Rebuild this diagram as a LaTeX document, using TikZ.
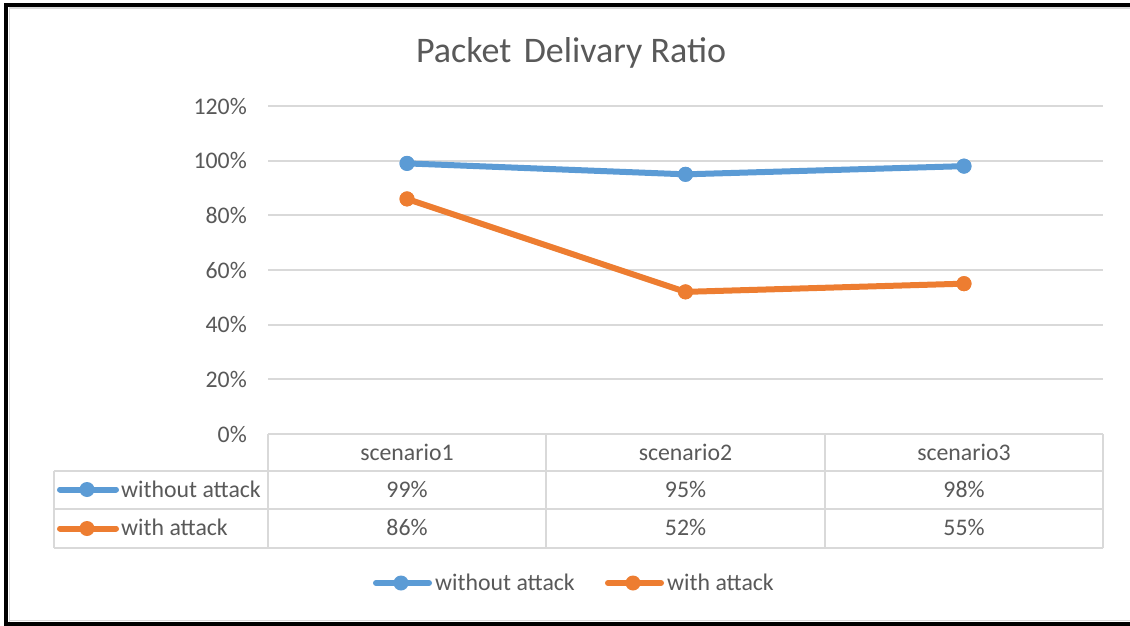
\documentclass[tikz,border=0pt]{standalone}
\usepackage{fontspec}
\setmainfont{Carlito}
\definecolor{serA}{HTML}{5B9BD5}
\definecolor{serB}{HTML}{ED7D31}
\definecolor{txtgray}{HTML}{595959}
\definecolor{gridgray}{HTML}{D9D9D9}
\begin{document}
\begin{tikzpicture}[x=1pt,y=-1pt,
  lbl/.style={text=txtgray,font=\fontsize{23.8}{28}\selectfont,inner sep=0pt},
  ttl/.style={text=txtgray,font=\fontsize{36}{42}\selectfont,inner sep=0pt},
  gridline/.style={draw=gridgray,line width=2pt},
  mkA/.style={circle,fill=serA,minimum size=15pt,inner sep=0pt},
  mkB/.style={circle,fill=serB,minimum size=15pt,inner sep=0pt},
  serline/.style={line width=6pt,line join=round},
  keyline/.style={line width=6pt,line cap=round}]
\useasboundingbox (0,0) rectangle (1130,626);
\fill[white] (0,0) rectangle (1130,626);
% frame
\draw[gridgray,line width=1.5pt] (9.5,626) -- (9.5,8) -- (1130,8);
\draw[gridgray,line width=1.5pt] (9.5,620.5) -- (1130,620.5);
\draw[black,line width=4pt] (6,626) -- (6,4.7) -- (1130,4.7);
\draw[black,line width=4pt] (4,624) -- (1130,624);
% title
\node[ttl,anchor=base] (title) at (571,63) {Packet\hspace{0.12em} Delivary Ratio};
% gridlines and axis labels
\foreach \v/\t in {1.2/120\%,1.0/100\%,0.8/80\%,0.6/60\%,0.4/40\%,0.2/20\%,0/0\%}{
  \draw[gridline] (268,{434-\v*273.33}) -- (1103,{434-\v*273.33});
  \node[lbl,anchor=base east] at (247,{434-\v*273.33+8}) {\t};
}
% table
\draw[gridline] (268,434) -- (1103,434);
\draw[gridline] (54,470.5) -- (1103,470.5);
\draw[gridline] (54,509) -- (1103,509);
\draw[gridline] (54,548) -- (1103,548);
\draw[gridline] (54,470.5) -- (54,548);
\foreach \x in {268,546,825,1103}{\draw[gridline] (\x,434) -- (\x,548);}
\node[lbl,anchor=base] (h1) at (407,460) {scenario1};
\node[lbl,anchor=base] (h2) at (685.5,460) {scenario2};
\node[lbl,anchor=base] (h3) at (964,460) {scenario3};
\node[lbl,anchor=base] (a1) at (407,497.5) {99\%};
\node[lbl,anchor=base] (a2) at (685.5,497.5) {95\%};
\node[lbl,anchor=base] (a3) at (964,497.5) {98\%};
\node[lbl,anchor=base] (b1) at (407,535.5) {86\%};
\node[lbl,anchor=base] (b2) at (685.5,535.5) {52\%};
\node[lbl,anchor=base] (b3) at (964,535.5) {55\%};
% table legend keys
\coordinate (tka1) at (60,489.5);
\coordinate (tka2) at (116,489.5);
\draw[serA,keyline] (tka1) -- (tka2);
\node[mkA] (tkam) at (87,489.5) {};
\node[lbl,anchor=base west] (tkat) at (121,497) {without attack};
\coordinate (tkb1) at (60,528.5);
\coordinate (tkb2) at (116,528.5);
\draw[serB,keyline] (tkb1) -- (tkb2);
\node[mkB] (tkbm) at (87,528.5) {};
\node[lbl,anchor=base west] (tkbt) at (121,535.5) {with attack};
% data series
\node[mkA] (pa1) at (407,{434-0.99*273.33}) {};
\node[mkA] (pa2) at (685.5,{434-0.95*273.33}) {};
\node[mkA] (pa3) at (964,{434-0.98*273.33}) {};
\node[mkB] (pb1) at (407,{434-0.86*273.33}) {};
\node[mkB] (pb2) at (685.5,{434-0.52*273.33}) {};
\node[mkB] (pb3) at (964,{434-0.55*273.33}) {};
\draw[serA,serline] (pa1.center) -- (pa2.center) -- (pa3.center);
\draw[serB,serline] (pb1.center) -- (pb2.center) -- (pb3.center);
\node[mkA] at (pa1) {};\node[mkA] at (pa2) {};\node[mkA] at (pa3) {};
\node[mkB] at (pb1) {};\node[mkB] at (pb2) {};\node[mkB] at (pb3) {};
% bottom legend
\coordinate (lka1) at (376,583);
\coordinate (lka2) at (429,583);
\draw[serA,keyline] (lka1) -- (lka2);
\node[mkA] (lkam) at (401,583) {};
\node[lbl,anchor=base west] (lkat) at (435,590) {without attack};
\coordinate (lkb1) at (608,583);
\coordinate (lkb2) at (661,583);
\draw[serB,keyline] (lkb1) -- (lkb2);
\node[mkB] (lkbm) at (633,583) {};
\node[lbl,anchor=base west] (lkbt) at (667,590) {with attack};
\end{tikzpicture}
\end{document}
